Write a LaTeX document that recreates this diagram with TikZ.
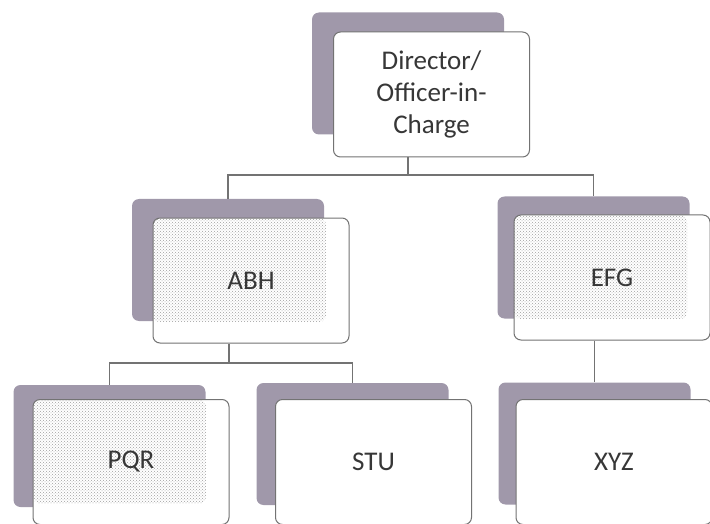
\documentclass[tikz,border=0pt]{standalone}
\usepackage{fontspec}
\setmainfont{Carlito}
\usetikzlibrary{positioning,patterns}
\definecolor{backbox}{RGB}{160,152,170}
\definecolor{linegray}{RGB}{115,115,115}
\definecolor{textgray}{RGB}{55,55,55}
\tikzset{%
  back box/.style={rectangle, rounded corners=7pt, fill=backbox, minimum width=192pt, minimum height=122pt, inner sep=0pt},
  front box/.style={rectangle, rounded corners=7pt, draw=linegray, line width=1pt, fill=white, minimum width=196pt, minimum height=125pt, inner sep=0pt, text=textgray, font=\fontsize{27}{32}\selectfont, align=center},
  dotted box/.style={front box, path picture={\fill[pattern=crosshatch dots, pattern color=gray!75] (path picture bounding box.north west) rectangle ++(173pt,-104pt);}},
  link/.style={draw=linegray, line width=1.1pt}
}

\begin{document}
\begin{tikzpicture}[x=1pt,y=-1pt]

          \useasboundingbox (0,0) rectangle (710,524);

          % top level
          \node[back box] (dirback) at (408,73.5) {};
          \node[front box] (dir) at (431.5,94.5) {Director/\\Officer-in-\\Charge};

          % second level
          \node[back box] (abhback) at (228,260) {};
          \node[dotted box] (abh) at (251,280.5) {ABH};
          \node[back box] (efgback) at (593.5,257.5) {};
          \node[dotted box] (efg) at (612,277.5) {EFG};

          % third level
          \node[back box] (pqrback) at (109.5,446) {};
          \node[dotted box] (pqr) at (131,462) {PQR};
          \node[back box] (stuback) at (352.5,444) {};
          \node[front box] (stu) at (373.5,462) {STU};
          \node[back box] (xyzback) at (594.5,443.5) {};
          \node[front box] (xyz) at (614,462) {XYZ};

          % connectors
          \coordinate (topsplit) at (408,175);
          \coordinate (abhsplit) at (229,363);
          \draw[link] (dir.south -| dirback.south) -- (topsplit);
          \draw[link] (topsplit) -| (abhback.north);
          \draw[link] (topsplit) -| (efgback.north);
          \draw[link] (abh.south -| abhsplit) -- (abhsplit);
          \draw[link] (abhsplit) -| (pqrback.north);
          \draw[link] (abhsplit) -| (stuback.north);
          \draw[link] (efg.south -| xyzback.north) -- (xyzback.north);
        \end{tikzpicture}
\end{document}
